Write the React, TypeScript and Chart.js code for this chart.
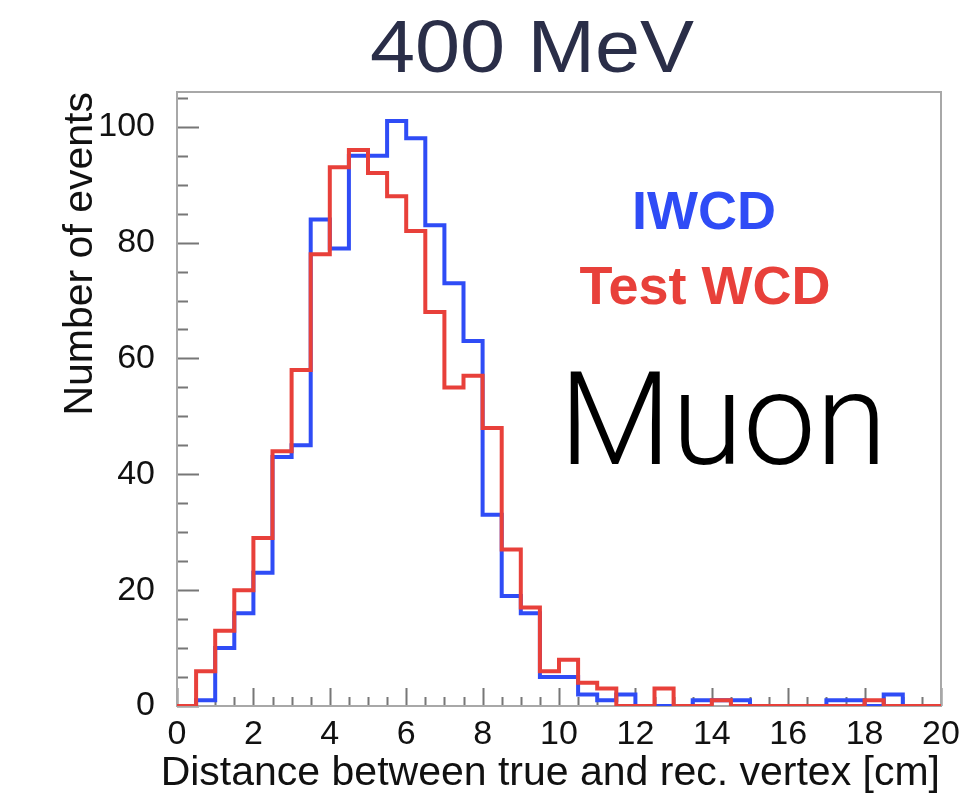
import React, { useEffect, useRef } from 'react';
import { Chart, registerables } from 'chart.js';

Chart.register(...registerables);

// Histogram binning: 40 bins of 0.5 cm from 0 to 20 cm
const BIN_LOW = 0;
const BIN_WIDTH = 0.5;
const BIN_HIGH = 20;

// Bin contents (number of events)
const IWCD = [0, 1, 10, 16, 23, 43, 45, 84, 79, 95, 95, 101, 98, 83, 73, 63, 33, 19, 16, 5, 5, 2, 1, 2, 0, 0, 0, 1, 1, 1, 0, 0, 0, 0, 1, 1, 0, 2, 0, 0];
const TEST_WCD = [0, 6, 13, 20, 29, 44, 58, 78, 93, 96, 92, 88, 82, 68, 55, 57, 48, 27, 17, 6, 8, 4, 3, 0, 0, 3, 0, 0, 1, 0, 0, 0, 0, 0, 0, 0, 1, 0, 0, 0];

// Axis ticks
const X_TICKS = [0, 2, 4, 6, 8, 10, 12, 14, 16, 18, 20];
const Y_TICKS = [0, 20, 40, 60, 80, 100];
const Y_MAX = 106;

const TITLE = '400 MeV';
const X_TITLE = 'Distance between true and rec. vertex [cm]';
const Y_TITLE = 'Number of events';
const LABEL_IWCD = 'IWCD';
const LABEL_TEST = 'Test WCD';
const PARTICLE = 'Muon';

const BLUE = '#2f4cf6';
const RED = '#e8403a';
const SANS = '"Liberation Sans", Arial, Helvetica, sans-serif';

function toSteps(values: number[]) {
  const pts = values.map((v, i) => ({ x: BIN_LOW + i * BIN_WIDTH, y: v }));
  pts.push({ x: BIN_HIGH, y: values[values.length - 1] });
  return pts;
}

const framePlugin = {
  id: 'rootFrame',
  beforeDatasetsDraw(chart: any) {
    const { ctx, chartArea: a, scales } = chart;
    const xs = scales.x;
    const ys = scales.y;
    ctx.save();
    // ticks inside the frame
    ctx.strokeStyle = '#777';
    ctx.lineWidth = 2;
    ctx.beginPath();
    for (let v = 0; v <= Y_MAX; v += 5) {
      const y = Math.round(ys.getPixelForValue(v)) + 0.5;
      const len = v % 20 === 0 ? 22 : 11;
      ctx.moveTo(a.left, y);
      ctx.lineTo(a.left + len, y);
    }
    for (let v = BIN_LOW; v <= BIN_HIGH + 1e-9; v += 0.5) {
      const x = Math.round(xs.getPixelForValue(v)) + 0.5;
      const len = Math.abs(v % 2) < 1e-9 ? 18 : 9;
      ctx.moveTo(x, a.bottom);
      ctx.lineTo(x, a.bottom - len);
    }
    ctx.stroke();
    // frame
    ctx.strokeStyle = '#a8a8a8';
    ctx.lineWidth = 2;
    ctx.strokeRect(a.left, a.top, a.right - a.left, a.bottom - a.top);
    ctx.restore();
  },
  afterDraw(chart: any) {
    const { ctx } = chart;
    ctx.save();
    // title
    ctx.fillStyle = '#2a2e48';
    ctx.font = `75px ${SANS}`;
    ctx.textAlign = 'center';
    ctx.textBaseline = 'alphabetic';
    ctx.save();
    ctx.translate(532, 72);
    ctx.scale(1.08, 1);
    ctx.fillText(TITLE, 0, 0);
    ctx.restore();
    // axis titles
    ctx.fillStyle = '#111';
    ctx.font = `41px ${SANS}`;
    ctx.textAlign = 'right';
    ctx.fillText(X_TITLE, 940, 785);
    ctx.save();
    ctx.translate(92, 92);
    ctx.rotate(-Math.PI / 2);
    ctx.textAlign = 'right';
    ctx.fillText(Y_TITLE, 0, 0);
    ctx.restore();
    // legend texts
    ctx.textAlign = 'center';
    ctx.font = `bold 54px ${SANS}`;
    ctx.fillStyle = BLUE;
    ctx.fillText(LABEL_IWCD, 704, 229);
    ctx.fillStyle = RED;
    ctx.fillText(LABEL_TEST, 705, 304);
    // particle label
    ctx.fillStyle = '#000';
    ctx.textAlign = 'left';
    ctx.font = `300 130px Roboto, "Open Sans", ${SANS}`;
    ctx.fillText(PARTICLE, 559, 464);
    ctx.restore();
  },
};

export default function App() {
  const ref = useRef<HTMLCanvasElement | null>(null);
  useEffect(() => {
    const canvas = ref.current;
    if (!canvas) return;
    const chart = new Chart(canvas, {
      type: 'line',
      data: {
        datasets: [
          {
            label: LABEL_TEST,
            data: toSteps(TEST_WCD),
            borderColor: RED,
            borderWidth: 4,
            stepped: 'before',
            pointRadius: 0,
            fill: false,
          },
          {
            label: LABEL_IWCD,
            data: toSteps(IWCD),
            borderColor: BLUE,
            borderWidth: 4,
            stepped: 'before',
            pointRadius: 0,
            fill: false,
          },
        ],
      },
      options: {
        responsive: false,
        animation: false,
        events: [],
        layout: { padding: { top: 92, right: 28, left: 0, bottom: 0 } },
        plugins: {
          legend: { display: false },
          tooltip: { enabled: false },
          title: { display: false },
        },
        scales: {
          x: {
            type: 'linear',
            min: BIN_LOW,
            max: BIN_HIGH,
            grid: { display: false },
            border: { display: false },
            afterBuildTicks: (s: any) => {
              s.ticks = X_TICKS.map((v) => ({ value: v }));
            },
            afterFit: (s: any) => {
              s.height = 89;
            },
            ticks: {
              autoSkip: false,
              maxRotation: 0,
              padding: 0,
              color: '#111',
              font: { size: 34, family: SANS },
            },
          },
          y: {
            type: 'linear',
            min: 0,
            max: Y_MAX,
            grid: { display: false },
            border: { display: false },
            afterBuildTicks: (s: any) => {
              s.ticks = Y_TICKS.map((v) => ({ value: v }));
            },
            afterFit: (s: any) => {
              s.width = 177;
            },
            ticks: {
              autoSkip: false,
              padding: 14,
              color: '#111',
              font: { size: 34, family: SANS },
            },
          },
        },
      },
      plugins: [framePlugin],
    } as any);
    return () => chart.destroy();
  }, []);
  return (
    <div style={{ position: 'absolute', left: 0, top: 0, width: 969, height: 795, background: '#fff' }}>
      <canvas ref={ref} width={969} height={795} style={{ display: 'block' }} />
    </div>
  );
}
